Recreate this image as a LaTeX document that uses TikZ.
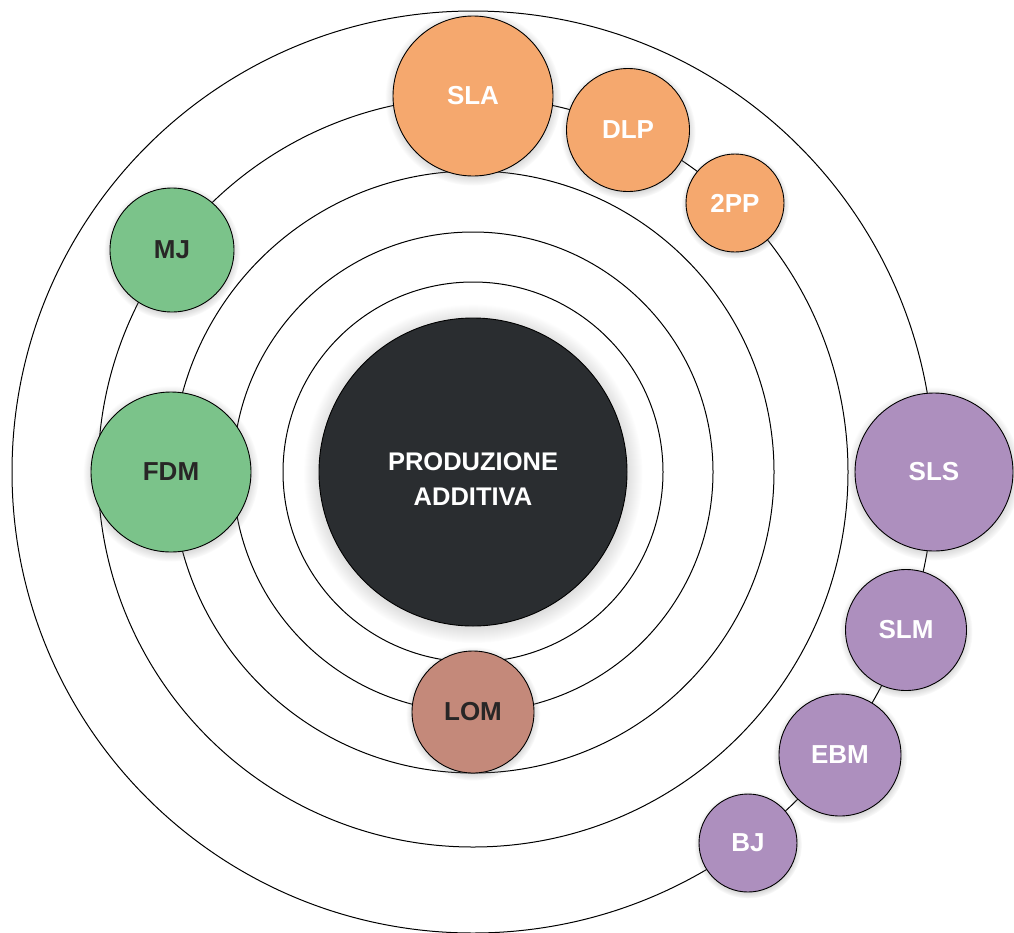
\documentclass[tikz,border=0pt]{standalone}
\usepackage{fontspec}
\setmainfont{Liberation Sans}
\usetikzlibrary{shadows}
\definecolor{coreC}{HTML}{2A2D30}
\definecolor{orangeC}{HTML}{F5A86E}
\definecolor{greenC}{HTML}{7BC38A}
\definecolor{purpleC}{HTML}{AD8FBE}
\definecolor{brownC}{HTML}{C4897A}
\definecolor{darktext}{HTML}{282626}
\begin{document}
\begin{tikzpicture}[x=1pt,y=1pt,
  ring/.style={draw=black,line width=1pt},
  tech/.style={circle,draw=black,line width=0.9pt,inner sep=0pt,
    font=\fontsize{26}{30}\selectfont\bfseries,
    circular drop shadow={shadow xshift=0pt,shadow yshift=-1.5pt,
      shadow scale=1.1,opacity=0.4}},
  orangetech/.style={tech,fill=orangeC,text=white},
  greentech/.style={tech,fill=greenC,text=darktext},
  purpletech/.style={tech,fill=purpleC,text=white},
  browntech/.style={tech,fill=brownC,text=darktext},
  core/.style={tech,fill=coreC},
  corelabel/.style={text=white,align=center,inner sep=0pt,
    font=\fontsize{25.5}{35}\selectfont\bfseries}]
\useasboundingbox (0,0) rectangle (1014,-932);
\coordinate (c) at (473,-472);

% concentric orbits
\foreach \r in {190,240,301,375,461}
  \draw[ring] (c) circle[radius=\r];

% central hub
\node[core,minimum size=308pt] (core) at (c) {};
\node[corelabel] (coretext) at (473,-479) {PRODUZIONE\\ADDITIVA};

% orbit 2
\node[browntech,minimum size=122pt] (lom) at (473,-712) {LOM};

% orbit 3
\node[greentech,minimum size=160pt] (fdm) at (171,-472) {FDM};

% orbit 4
\node[greentech,minimum size=124pt] (mj)  at (172,-250) {MJ};
\node[orangetech,minimum size=160pt] (sla) at (473,-96)  {SLA};
\node[orangetech,minimum size=123pt] (dlp) at (628,-130) {DLP};
\node[orangetech,minimum size=98pt]  (tpp) at (735,-203) {2PP};

% orbit 5
\node[purpletech,minimum size=158pt] (sls) at (934,-472) {SLS};
\node[purpletech,minimum size=121pt] (slm) at (906,-630) {SLM};
\node[purpletech,minimum size=122pt] (ebm) at (840,-755) {EBM};
\node[purpletech,minimum size=98pt]  (bj)  at (748,-843) {BJ};
\end{tikzpicture}
\end{document}
